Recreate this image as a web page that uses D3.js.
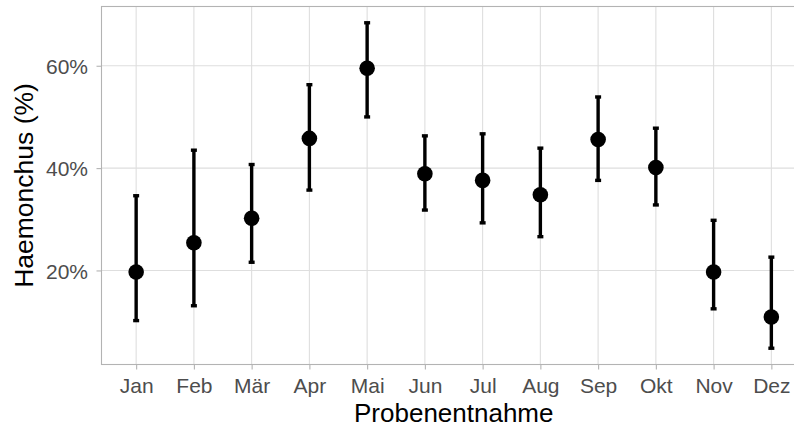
<!DOCTYPE html>
<html>
<head>
<meta charset="utf-8">
<script src="https://cdn.jsdelivr.net/npm/d3@7"></script>
<style>
  html, body { margin: 0; padding: 0; background: #fff; }
  svg { display: block; }
  text { font-family: "Liberation Sans", Arial, sans-serif; }
</style>
</head>
<body>
<svg id="chart" width="794" height="428"></svg>
<script>
// Monthly share of Haemonchus (%) with confidence intervals
const months = ["Jan", "Feb", "Mär", "Apr", "Mai", "Jun", "Jul", "Aug", "Sep", "Okt", "Nov", "Dez"];
const estimate = [19.7, 25.4, 30.2, 45.8, 59.5, 38.9, 37.6, 34.8, 45.6, 40.1, 19.7, 10.9];
const lower    = [10.2, 13.1, 21.6, 35.7, 50.0, 31.8, 29.3, 26.6, 37.6, 32.8, 12.5,  4.8];
const upper    = [34.6, 43.5, 40.7, 56.3, 68.4, 46.3, 46.7, 43.9, 53.9, 47.8, 29.8, 22.6];
const yTicks   = [20, 40, 60];

const data = months.map((m, i) => ({ month: m, est: estimate[i], lo: lower[i], hi: upper[i] }));

const svg = d3.select("#chart");
const panel = { left: 101.5, top: 6.5, right: 806, bottom: 364.5 };

// discrete x scale with 0.6 units of padding at each end
const x = d3.scalePoint().domain(months).range([panel.left, panel.right]).padding(0.6);

const yMin = d3.min(lower), yMax = d3.max(upper), span = yMax - yMin;
const y = d3.scaleLinear()
  .domain([yMin - 0.05 * span, yMax + 0.05 * span])
  .range([panel.bottom, panel.top]);

// grid
const grid = svg.append("g");
grid.selectAll("line.h").data(yTicks).join("line")
  .attr("x1", panel.left).attr("x2", panel.right)
  .attr("y1", d => y(d)).attr("y2", d => y(d))
  .attr("stroke", "#dedede").attr("stroke-width", 1.1);
grid.selectAll("line.v").data(months).join("line")
  .attr("x1", d => x(d)).attr("x2", d => x(d))
  .attr("y1", panel.top).attr("y2", panel.bottom)
  .attr("stroke", "#dedede").attr("stroke-width", 1.1);

// panel border
svg.append("rect")
  .attr("x", panel.left).attr("y", panel.top)
  .attr("width", panel.right - panel.left).attr("height", panel.bottom - panel.top)
  .attr("fill", "none").attr("stroke", "#b3b3b3").attr("stroke-width", 1.1);

// axes
const xAxis = svg.append("g")
  .attr("transform", `translate(0,${panel.bottom})`)
  .call(d3.axisBottom(x).tickSize(5).tickPadding(6));
const yAxis = svg.append("g")
  .attr("transform", `translate(${panel.left},0)`)
  .call(d3.axisLeft(y).tickValues(yTicks).tickFormat(d => d + "%").tickSize(5).tickPadding(8));
[xAxis, yAxis].forEach(a => {
  a.select(".domain").remove();
  a.selectAll(".tick line").attr("stroke", "#b3b3b3").attr("stroke-width", 1.1);
  a.selectAll(".tick text").attr("fill", "#4d4d4d").style("font-size", "21px")
    .style("font-family", "'Liberation Sans', Arial, sans-serif");
});
xAxis.selectAll(".tick text").attr("y", 28.5).attr("dy", 0);
yAxis.selectAll(".tick text").attr("x", -13.5).attr("dy", "0.36em");

// error bars
const capHalf = 3;
const bars = svg.append("g").attr("stroke", "#000").attr("stroke-width", 3.4);
bars.selectAll("line.v").data(data).join("line")
  .attr("x1", d => x(d.month)).attr("x2", d => x(d.month))
  .attr("y1", d => y(d.lo)).attr("y2", d => y(d.hi));
bars.selectAll("line.t").data(data).join("line")
  .attr("x1", d => x(d.month) - capHalf).attr("x2", d => x(d.month) + capHalf)
  .attr("y1", d => y(d.hi)).attr("y2", d => y(d.hi));
bars.selectAll("line.b").data(data).join("line")
  .attr("x1", d => x(d.month) - capHalf).attr("x2", d => x(d.month) + capHalf)
  .attr("y1", d => y(d.lo)).attr("y2", d => y(d.lo));

// point estimates
svg.append("g").selectAll("circle").data(data).join("circle")
  .attr("cx", d => x(d.month)).attr("cy", d => y(d.est)).attr("r", 7.8)
  .attr("fill", "#000");

// axis titles
svg.append("text")
  .attr("x", (panel.left + panel.right) / 2).attr("y", 421.5)
  .attr("text-anchor", "middle").attr("fill", "#000")
  .style("font-size", "26px").text("Probenentnahme");
svg.append("text")
  .attr("transform", `translate(32.5,${(panel.top + panel.bottom) / 2}) rotate(-90)`)
  .attr("text-anchor", "middle").attr("fill", "#000")
  .style("font-size", "26.5px").text("Haemonchus (%)");
</script>
</body>
</html>
